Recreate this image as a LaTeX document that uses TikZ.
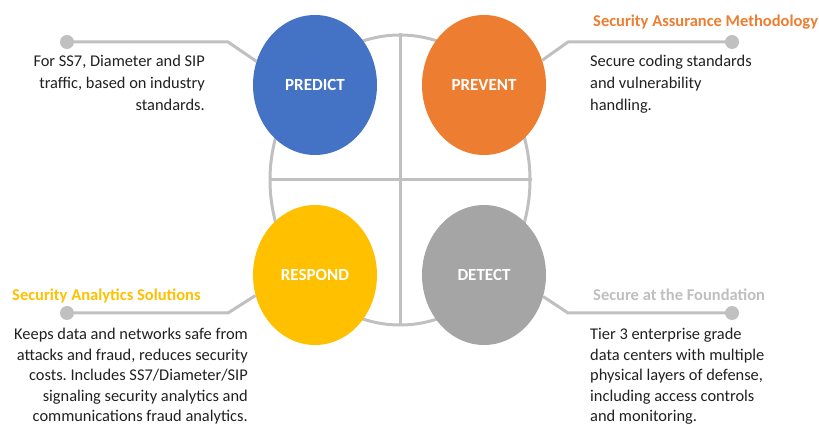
\documentclass[tikz,border=0pt]{standalone}
\usepackage{fontspec}
\setmainfont{Carlito}
\usetikzlibrary{shapes.geometric}
\frenchspacing

\definecolor{cblue}{HTML}{4472C4}
\definecolor{corange}{HTML}{ED7D31}
\definecolor{cyellow}{HTML}{FFC000}
\definecolor{cgrey}{HTML}{A5A5A5}
\definecolor{cline}{HTML}{C0C0C0}
\definecolor{clabel}{HTML}{BFBFBF}
\definecolor{ctext}{HTML}{202020}

\tikzset{
  phase/.style={ellipse, minimum width=124, minimum height=140, inner sep=0,
    text=white, font=\fontsize{17}{20}\selectfont\bfseries},
  leader/.style={draw=cline, line width=3pt},
  pin/.style={circle, fill=cline, minimum size=14, inner sep=0},
  body/.style={inner sep=0, text=ctext, font=\fontsize{16.4}{20.5}\selectfont},
  heading/.style={inner sep=0, font=\fontsize{16.5}{19}\selectfont\bfseries}
}

\begin{document}
\begin{tikzpicture}[x=1pt, y=-1pt]
    \useasboundingbox (0,0) rectangle (819,427);

    \node(ring) [ellipse, draw=cline, line width=3pt, minimum width=260, minimum height=290] at (400,180) {};
    \draw [leader] (ring.north) to (ring.south);
    \draw [leader] (ring.west) to (ring.east);

    \node(predict) [phase, fill=cblue]   at (315,85)  {PREDICT};
    \node(prevent) [phase, fill=corange] at (484,85)  {PREVENT};
    \node(respond) [phase, fill=cyellow] at (315,275) {RESPOND};
    \node(detect)  [phase, fill=cgrey]   at (484,275) {DETECT};

    \node(p1) [pin] at (67,42)   {};
    \node(p2) [pin] at (732,42)  {};
    \node(p3) [pin] at (67,313)  {};
    \node(p4) [pin] at (732,313) {};

    \coordinate(b1) at (228,42);
    \coordinate(b2) at (568,42);
    \coordinate(b3) at (228,313);
    \coordinate(b4) at (568,313);

    \draw [leader] (p1.center) -- (b1) -- (predict.158);
    \draw [leader] (p2.center) -- (b2) -- (prevent.23);
    \draw [leader] (p3.center) -- (b3) -- (respond.199);
    \draw [leader] (p4.center) -- (b4) -- (detect.340);

    \node(h2) [heading, text=corange, anchor=base west] at (593,27)  {Security Assurance Methodology};
    \node(h3) [heading, text=cyellow, anchor=base west] at (12,301)  {Security Analytics Solutions};
    \node(h4) [heading, text=clabel,  anchor=base west] at (593,301) {Secure at the Foundation};

    \node(t1) [body, align=right, anchor=north east, font=\fontsize{16.4}{22}\selectfont] at (205,55)
      {For SS7, Diameter and SIP\\traffic, based on industry\\standards.};
    \node(t2) [body, align=left, anchor=north west, font=\fontsize{16.4}{22}\selectfont] at (590,55)
      {Secure coding standards\\and vulnerability\\handling.};
    \node(t3) [body, align=right, anchor=north east] at (248,328)
      {Keeps data and networks safe from\\attacks and fraud, reduces security\\costs. Includes SS7/Diameter/SIP\\signaling security analytics and\\communications fraud analytics.};
    \node(t4) [body, align=left, anchor=north west] at (590,328)
      {Tier 3 enterprise grade\\data centers with multiple\\physical layers of defense,\\including access controls\\and monitoring.};

  \end{tikzpicture}
\end{document}
